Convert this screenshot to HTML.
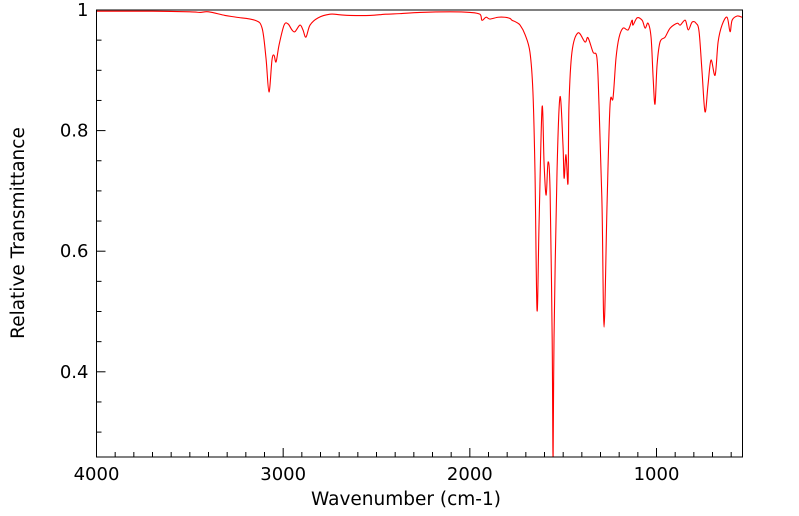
<!DOCTYPE html>
<html><head><meta charset="utf-8"><style>
html,body{margin:0;padding:0;background:#fff;}
svg{display:block;font-family:"DejaVu Sans","Liberation Sans",sans-serif;}
</style></head><body>
<svg id="chart" width="799" height="516" viewBox="0 0 799 516" xmlns="http://www.w3.org/2000/svg">
<defs><clipPath id="pc"><rect x="96.5" y="10" width="646" height="447"/></clipPath></defs>
<g id="axes"></g>
<path id="line" fill="none" stroke="#ff0000" stroke-width="1.1" clip-path="url(#pc)"/>
<rect x="96.5" y="10" width="646" height="447" fill="none" stroke="#000" stroke-width="1"/>
<text x="406" y="505" font-size="18.5" text-anchor="middle">Wavenumber (cm-1)</text>
<text transform="translate(24,233) rotate(-90)" font-size="18.5" text-anchor="middle">Relative Transmittance</text>
</svg>
<script>
const wavenumbers=[4000,3700,3500,3445,3400,3312,3250,3151,3113,3092,3076,3060,3049,3038,3022,2995,2974,2953,2937,2910,2894,2878,2856,2813,2749,2695,2642,2535,2450,2374,2267,2106,1999,1946,1935,1913,1892,1849,1812,1785,1774,1753,1731,1704,1678,1662,1651,1640,1629,1613,1602,1591,1581,1570,1559,1554,1549,1533,1517,1501,1495,1485,1474,1469,1453,1421,1383,1367,1340,1319,1308,1292,1281,1265,1249,1233,1217,1201,1179,1152,1131,1126,1104,1077,1061,1045,1029,1018,1008,997,981,954,927,889,873,846,830,809,788,772,756,740,724,708,686,670,649,622,606,595,568,542];
const transmittance=[0.998,0.998,0.997,0.996,0.997,0.991,0.988,0.983,0.970,0.920,0.864,0.917,0.925,0.914,0.942,0.975,0.977,0.967,0.964,0.975,0.967,0.955,0.975,0.987,0.993,0.992,0.991,0.991,0.993,0.994,0.996,0.997,0.996,0.993,0.983,0.988,0.985,0.988,0.988,0.986,0.983,0.980,0.975,0.959,0.930,0.864,0.731,0.502,0.648,0.839,0.743,0.693,0.748,0.698,0.456,0.250,0.456,0.731,0.856,0.776,0.721,0.760,0.713,0.842,0.930,0.962,0.947,0.954,0.930,0.920,0.842,0.677,0.474,0.677,0.842,0.854,0.920,0.954,0.970,0.967,0.983,0.975,0.987,0.983,0.970,0.978,0.954,0.887,0.844,0.909,0.947,0.955,0.970,0.978,0.975,0.983,0.967,0.980,0.978,0.964,0.897,0.831,0.876,0.917,0.892,0.947,0.975,0.988,0.964,0.983,0.990,0.988];
const xTicks=[4000,3000,2000,1000];
const yTicks=[0.4,0.6,0.8,1];
const X0=96.5,X1=742.5,Y0=10,Y1=457;
const xMax=4000,xMin=4000-(X1-X0)*1000/186.67;
const yMax=1,yMin=1-(Y1-Y0)/603;
function xs(w){return X0+(xMax-w)/(xMax-xMin)*(X1-X0);}
function ys(t){return Y0+(yMax-t)/(yMax-yMin)*(Y1-Y0);}
const pts=wavenumbers.map((w,i)=>[xs(w),ys(transmittance[i])]);
let d='M'+pts[0][0].toFixed(2)+','+pts[0][1].toFixed(2);
for(let i=0;i<pts.length-1;i++){const p0=pts[i-1]||pts[i],p1=pts[i],p2=pts[i+1],p3=pts[i+2]||p2;
const c1=[p1[0]+(p2[0]-p0[0])/6,p1[1]+(p2[1]-p0[1])/6],c2=[p2[0]-(p3[0]-p1[0])/6,p2[1]-(p3[1]-p1[1])/6];
d+='C'+c1.map(v=>v.toFixed(2)).join(',')+' '+c2.map(v=>v.toFixed(2)).join(',')+' '+p2.map(v=>v.toFixed(2)).join(',');}
const line=document.getElementById('line');
line.setAttribute('d',d);
const ax=document.getElementById('axes');
const NS='http://www.w3.org/2000/svg';
function ln(x1,y1,x2,y2,name){const l=document.createElementNS(NS,'line');
l.setAttribute('x1',x1);l.setAttribute('y1',y1);l.setAttribute('x2',x2);l.setAttribute('y2',y2);
l.setAttribute('stroke','#000');l.setAttribute('stroke-width','1');


ax.appendChild(l);}
for(let w=4000;w>=xMin;w-=100){const x=xs(w);const major=w%1000===0;ln(x,Y1,x,Y1-(major?9:5),major?'x-major-tick':'x-minor-tick');}
for(let k=0;k<=20;k++){const t=1-k*0.05;if(t<yMin)break;const y=ys(t);const major=k%4===0;ln(X0,y,X0+(major?9:5),y,major?'y-major-tick':'y-minor-tick');}
xTicks.forEach(w=>{const t=document.createElementNS(NS,'text');t.setAttribute('x',xs(w));t.setAttribute('y',Y1+23);t.setAttribute('font-size','18');t.setAttribute('text-anchor','middle');t.textContent=w;


ax.appendChild(t);});
yTicks.forEach(v=>{const t=document.createElementNS(NS,'text');t.setAttribute('x',X0-8);t.setAttribute('y',ys(v)+6);t.setAttribute('font-size','18');t.setAttribute('text-anchor','end');t.textContent=v===1?'1':v.toFixed(1);


ax.appendChild(t);});
</script>
</body></html>
